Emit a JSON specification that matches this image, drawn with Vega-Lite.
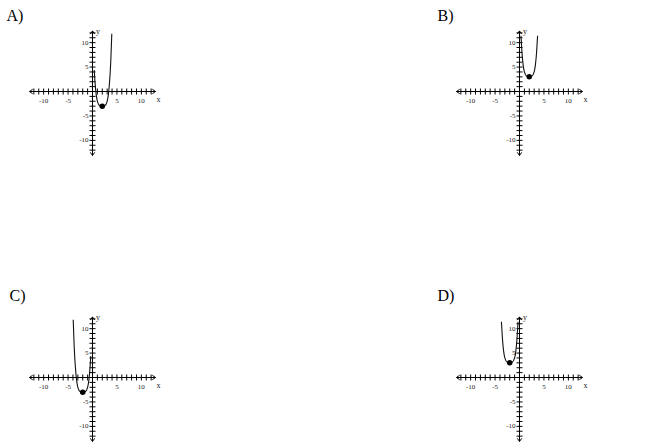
{
  "$schema": "https://vega.github.io/schema/vega-lite/v6.json",
  "background": "white",
  "padding": {"left": 6, "top": 8, "right": 5, "bottom": 5},
  "config": {"view": {"stroke": null}},
  "datasets": {
    "axes": [{"x": -12.9, "y": 0, "x2": 12.9, "y2": 0}, {"x": 0, "y": -13.1, "x2": 0, "y2": 12.4}],
    "xticks": [{"x": -12, "y": 0}, {"x": -11, "y": 0}, {"x": -10, "y": 0}, {"x": -9, "y": 0}, {"x": -8, "y": 0}, {"x": -7, "y": 0}, {"x": -6, "y": 0}, {"x": -5, "y": 0}, {"x": -4, "y": 0}, {"x": -3, "y": 0}, {"x": -2, "y": 0}, {"x": -1, "y": 0}, {"x": 1, "y": 0}, {"x": 2, "y": 0}, {"x": 3, "y": 0}, {"x": 4, "y": 0}, {"x": 5, "y": 0}, {"x": 6, "y": 0}, {"x": 7, "y": 0}, {"x": 8, "y": 0}, {"x": 9, "y": 0}, {"x": 10, "y": 0}, {"x": 11, "y": 0}, {"x": 12, "y": 0}],
    "yticks": [{"x": 0, "y": -12}, {"x": 0, "y": -11}, {"x": 0, "y": -10}, {"x": 0, "y": -9}, {"x": 0, "y": -8}, {"x": 0, "y": -7}, {"x": 0, "y": -6}, {"x": 0, "y": -5}, {"x": 0, "y": -4}, {"x": 0, "y": -3}, {"x": 0, "y": -2}, {"x": 0, "y": -1}, {"x": 0, "y": 1}, {"x": 0, "y": 2}, {"x": 0, "y": 3}, {"x": 0, "y": 4}, {"x": 0, "y": 5}, {"x": 0, "y": 6}, {"x": 0, "y": 7}, {"x": 0, "y": 8}, {"x": 0, "y": 9}, {"x": 0, "y": 10}, {"x": 0, "y": 11}, {"x": 0, "y": 12}],
    "arrows": [{"x": -12.9, "y": 0, "dir": "left"}, {"x": 12.9, "y": 0, "dir": "right"}, {"x": 0, "y": 12.4, "dir": "up"}, {"x": 0, "y": -13.1, "dir": "down"}],
    "xlabels": [{"x": -10, "y": 0, "t": "-10"}, {"x": -5, "y": 0, "t": "-5"}, {"x": 5, "y": 0, "t": "5"}, {"x": 10, "y": 0, "t": "10"}],
    "ylabels": [{"x": 0, "y": 10, "t": "10"}, {"x": 0, "y": 5, "t": "5"}, {"x": 0, "y": -5, "t": "-5"}, {"x": 0, "y": -10, "t": "-10"}],
    "names": [{"x": 13.1, "y": -1.7, "t": "x"}, {"x": 0.7, "y": 12.2, "t": "y"}]
  },
  "columns": 2,
  "bounds": "flush",
  "spacing": {"row": 157, "column": 298},
  "concat": [
    {
      "title": {"text": "A)", "anchor": "start", "frame": "group", "dx": -21.5, "offset": 3, "font": "Liberation Serif", "fontSize": 16, "fontWeight": "normal", "color": "black"},
      "width": 129, "height": 129,
      "layer": [
        {"data": {"name": "axes"}, "mark": {"type": "rule", "color": "black", "strokeWidth": 1}, "encoding": {"x": {"field": "x", "type": "quantitative", "scale": {"domain": [-13.2, 13.2], "nice": false, "zero": false}, "axis": null}, "y": {"field": "y", "type": "quantitative", "scale": {"domain": [-13.2, 13.2], "nice": false, "zero": false}, "axis": null}, "x2": {"field": "x2"}, "y2": {"field": "y2"}}},
        {"data": {"name": "xticks"}, "mark": {"type": "tick", "orient": "vertical", "size": 6, "thickness": 1, "color": "black", "opacity": 1}, "encoding": {"x": {"field": "x", "type": "quantitative"}, "y": {"field": "y", "type": "quantitative"}}},
        {"data": {"name": "yticks"}, "mark": {"type": "tick", "orient": "horizontal", "size": 6, "thickness": 1, "color": "black", "opacity": 1}, "encoding": {"x": {"field": "x", "type": "quantitative"}, "y": {"field": "y", "type": "quantitative"}}},
        {"data": {"name": "arrows"}, "mark": {"type": "point", "filled": false, "strokeWidth": 1, "color": "black", "size": 40, "opacity": 1}, "encoding": {"x": {"field": "x", "type": "quantitative"}, "y": {"field": "y", "type": "quantitative"}, "shape": {"field": "dir", "type": "nominal", "scale": {"domain": ["left", "right", "up", "down"], "range": ["M1,-0.7L0,0L1,0.7", "M-1,-0.7L0,0L-1,0.7", "M-0.7,1L0,0L0.7,1", "M-0.7,-1L0,0L0.7,-1"]}, "legend": null}}},
        {"data": {"name": "xlabels"}, "mark": {"type": "text", "dy": 9, "font": "Liberation Serif", "fontSize": 7, "color": "#222"}, "encoding": {"x": {"field": "x", "type": "quantitative"}, "y": {"field": "y", "type": "quantitative"}, "text": {"field": "t"}}},
        {"data": {"name": "ylabels"}, "mark": {"type": "text", "align": "right", "dx": -4, "font": "Liberation Serif", "fontSize": 7, "color": "#222"}, "encoding": {"x": {"field": "x", "type": "quantitative"}, "y": {"field": "y", "type": "quantitative"}, "text": {"field": "t"}}},
        {"data": {"name": "names"}, "mark": {"type": "text", "align": "left", "font": "Liberation Serif", "fontSize": 8, "color": "#222"}, "encoding": {"x": {"field": "x", "type": "quantitative"}, "y": {"field": "y", "type": "quantitative"}, "text": {"field": "t"}}},
        {"data": {"values": [{"x": 0.35, "y": 4.4}, {"x": 0.5, "y": 2.1}, {"x": 0.75, "y": -0.6}, {"x": 1, "y": -2}, {"x": 1.5, "y": -2.9}, {"x": 2, "y": -3}, {"x": 2.5, "y": -2.9}, {"x": 3, "y": -2}, {"x": 3.25, "y": -0.6}, {"x": 3.5, "y": 2.1}, {"x": 3.75, "y": 6.4}, {"x": 3.95, "y": 11.8}]}, "mark": {"type": "line", "interpolate": "monotone", "color": "#111", "strokeWidth": 1.1}, "encoding": {"x": {"field": "x", "type": "quantitative"}, "y": {"field": "y", "type": "quantitative"}}},
        {"data": {"values": [{"x": 2, "y": -3}]}, "mark": {"type": "point", "filled": true, "color": "black", "size": 30, "opacity": 1}, "encoding": {"x": {"field": "x", "type": "quantitative"}, "y": {"field": "y", "type": "quantitative"}}}
      ]
    },
    {
      "title": {"text": "B)", "anchor": "start", "frame": "group", "dx": -17.5, "offset": 3, "font": "Liberation Serif", "fontSize": 16, "fontWeight": "normal", "color": "black"},
      "width": 129, "height": 129,
      "layer": [
        {"data": {"name": "axes"}, "mark": {"type": "rule", "color": "black", "strokeWidth": 1}, "encoding": {"x": {"field": "x", "type": "quantitative", "scale": {"domain": [-13.2, 13.2], "nice": false, "zero": false}, "axis": null}, "y": {"field": "y", "type": "quantitative", "scale": {"domain": [-13.2, 13.2], "nice": false, "zero": false}, "axis": null}, "x2": {"field": "x2"}, "y2": {"field": "y2"}}},
        {"data": {"name": "xticks"}, "mark": {"type": "tick", "orient": "vertical", "size": 6, "thickness": 1, "color": "black", "opacity": 1}, "encoding": {"x": {"field": "x", "type": "quantitative"}, "y": {"field": "y", "type": "quantitative"}}},
        {"data": {"name": "yticks"}, "mark": {"type": "tick", "orient": "horizontal", "size": 6, "thickness": 1, "color": "black", "opacity": 1}, "encoding": {"x": {"field": "x", "type": "quantitative"}, "y": {"field": "y", "type": "quantitative"}}},
        {"data": {"name": "arrows"}, "mark": {"type": "point", "filled": false, "strokeWidth": 1, "color": "black", "size": 40, "opacity": 1}, "encoding": {"x": {"field": "x", "type": "quantitative"}, "y": {"field": "y", "type": "quantitative"}, "shape": {"field": "dir", "type": "nominal", "scale": {"domain": ["left", "right", "up", "down"], "range": ["M1,-0.7L0,0L1,0.7", "M-1,-0.7L0,0L-1,0.7", "M-0.7,1L0,0L0.7,1", "M-0.7,-1L0,0L0.7,-1"]}, "legend": null}}},
        {"data": {"name": "xlabels"}, "mark": {"type": "text", "dy": 9, "font": "Liberation Serif", "fontSize": 7, "color": "#222"}, "encoding": {"x": {"field": "x", "type": "quantitative"}, "y": {"field": "y", "type": "quantitative"}, "text": {"field": "t"}}},
        {"data": {"name": "ylabels"}, "mark": {"type": "text", "align": "right", "dx": -4, "font": "Liberation Serif", "fontSize": 7, "color": "#222"}, "encoding": {"x": {"field": "x", "type": "quantitative"}, "y": {"field": "y", "type": "quantitative"}, "text": {"field": "t"}}},
        {"data": {"name": "names"}, "mark": {"type": "text", "align": "left", "font": "Liberation Serif", "fontSize": 8, "color": "#222"}, "encoding": {"x": {"field": "x", "type": "quantitative"}, "y": {"field": "y", "type": "quantitative"}, "text": {"field": "t"}}},
        {"data": {"values": [{"x": 0.3, "y": 11.4}, {"x": 0.5, "y": 8.1}, {"x": 0.75, "y": 5.4}, {"x": 1, "y": 4}, {"x": 1.5, "y": 3.1}, {"x": 2, "y": 3}, {"x": 2.5, "y": 3.1}, {"x": 3, "y": 4}, {"x": 3.25, "y": 5.4}, {"x": 3.5, "y": 8.1}, {"x": 3.7, "y": 11.4}]}, "mark": {"type": "line", "interpolate": "monotone", "color": "#111", "strokeWidth": 1.1}, "encoding": {"x": {"field": "x", "type": "quantitative"}, "y": {"field": "y", "type": "quantitative"}}},
        {"data": {"values": [{"x": 2, "y": 3}]}, "mark": {"type": "point", "filled": true, "color": "black", "size": 30, "opacity": 1}, "encoding": {"x": {"field": "x", "type": "quantitative"}, "y": {"field": "y", "type": "quantitative"}}}
      ]
    },
    {
      "title": {"text": "C)", "anchor": "start", "frame": "group", "dx": -18.5, "offset": 9, "font": "Liberation Serif", "fontSize": 16, "fontWeight": "normal", "color": "black"},
      "width": 129, "height": 129,
      "layer": [
        {"data": {"name": "axes"}, "mark": {"type": "rule", "color": "black", "strokeWidth": 1}, "encoding": {"x": {"field": "x", "type": "quantitative", "scale": {"domain": [-13.2, 13.2], "nice": false, "zero": false}, "axis": null}, "y": {"field": "y", "type": "quantitative", "scale": {"domain": [-13.2, 13.2], "nice": false, "zero": false}, "axis": null}, "x2": {"field": "x2"}, "y2": {"field": "y2"}}},
        {"data": {"name": "xticks"}, "mark": {"type": "tick", "orient": "vertical", "size": 6, "thickness": 1, "color": "black", "opacity": 1}, "encoding": {"x": {"field": "x", "type": "quantitative"}, "y": {"field": "y", "type": "quantitative"}}},
        {"data": {"name": "yticks"}, "mark": {"type": "tick", "orient": "horizontal", "size": 6, "thickness": 1, "color": "black", "opacity": 1}, "encoding": {"x": {"field": "x", "type": "quantitative"}, "y": {"field": "y", "type": "quantitative"}}},
        {"data": {"name": "arrows"}, "mark": {"type": "point", "filled": false, "strokeWidth": 1, "color": "black", "size": 40, "opacity": 1}, "encoding": {"x": {"field": "x", "type": "quantitative"}, "y": {"field": "y", "type": "quantitative"}, "shape": {"field": "dir", "type": "nominal", "scale": {"domain": ["left", "right", "up", "down"], "range": ["M1,-0.7L0,0L1,0.7", "M-1,-0.7L0,0L-1,0.7", "M-0.7,1L0,0L0.7,1", "M-0.7,-1L0,0L0.7,-1"]}, "legend": null}}},
        {"data": {"name": "xlabels"}, "mark": {"type": "text", "dy": 9, "font": "Liberation Serif", "fontSize": 7, "color": "#222"}, "encoding": {"x": {"field": "x", "type": "quantitative"}, "y": {"field": "y", "type": "quantitative"}, "text": {"field": "t"}}},
        {"data": {"name": "ylabels"}, "mark": {"type": "text", "align": "right", "dx": -4, "font": "Liberation Serif", "fontSize": 7, "color": "#222"}, "encoding": {"x": {"field": "x", "type": "quantitative"}, "y": {"field": "y", "type": "quantitative"}, "text": {"field": "t"}}},
        {"data": {"name": "names"}, "mark": {"type": "text", "align": "left", "font": "Liberation Serif", "fontSize": 8, "color": "#222"}, "encoding": {"x": {"field": "x", "type": "quantitative"}, "y": {"field": "y", "type": "quantitative"}, "text": {"field": "t"}}},
        {"data": {"values": [{"x": -3.95, "y": 11.8}, {"x": -3.75, "y": 6.4}, {"x": -3.5, "y": 2.1}, {"x": -3.25, "y": -0.6}, {"x": -3, "y": -2}, {"x": -2.5, "y": -2.9}, {"x": -2, "y": -3}, {"x": -1.5, "y": -2.9}, {"x": -1, "y": -2}, {"x": -0.75, "y": -0.6}, {"x": -0.5, "y": 2.1}, {"x": -0.35, "y": 4.4}]}, "mark": {"type": "line", "interpolate": "monotone", "color": "#111", "strokeWidth": 1.1}, "encoding": {"x": {"field": "x", "type": "quantitative"}, "y": {"field": "y", "type": "quantitative"}}},
        {"data": {"values": [{"x": -2, "y": -3}]}, "mark": {"type": "point", "filled": true, "color": "black", "size": 30, "opacity": 1}, "encoding": {"x": {"field": "x", "type": "quantitative"}, "y": {"field": "y", "type": "quantitative"}}}
      ]
    },
    {
      "title": {"text": "D)", "anchor": "start", "frame": "group", "dx": -17.5, "offset": 9, "font": "Liberation Serif", "fontSize": 16, "fontWeight": "normal", "color": "black"},
      "width": 129, "height": 129,
      "layer": [
        {"data": {"name": "axes"}, "mark": {"type": "rule", "color": "black", "strokeWidth": 1}, "encoding": {"x": {"field": "x", "type": "quantitative", "scale": {"domain": [-13.2, 13.2], "nice": false, "zero": false}, "axis": null}, "y": {"field": "y", "type": "quantitative", "scale": {"domain": [-13.2, 13.2], "nice": false, "zero": false}, "axis": null}, "x2": {"field": "x2"}, "y2": {"field": "y2"}}},
        {"data": {"name": "xticks"}, "mark": {"type": "tick", "orient": "vertical", "size": 6, "thickness": 1, "color": "black", "opacity": 1}, "encoding": {"x": {"field": "x", "type": "quantitative"}, "y": {"field": "y", "type": "quantitative"}}},
        {"data": {"name": "yticks"}, "mark": {"type": "tick", "orient": "horizontal", "size": 6, "thickness": 1, "color": "black", "opacity": 1}, "encoding": {"x": {"field": "x", "type": "quantitative"}, "y": {"field": "y", "type": "quantitative"}}},
        {"data": {"name": "arrows"}, "mark": {"type": "point", "filled": false, "strokeWidth": 1, "color": "black", "size": 40, "opacity": 1}, "encoding": {"x": {"field": "x", "type": "quantitative"}, "y": {"field": "y", "type": "quantitative"}, "shape": {"field": "dir", "type": "nominal", "scale": {"domain": ["left", "right", "up", "down"], "range": ["M1,-0.7L0,0L1,0.7", "M-1,-0.7L0,0L-1,0.7", "M-0.7,1L0,0L0.7,1", "M-0.7,-1L0,0L0.7,-1"]}, "legend": null}}},
        {"data": {"name": "xlabels"}, "mark": {"type": "text", "dy": 9, "font": "Liberation Serif", "fontSize": 7, "color": "#222"}, "encoding": {"x": {"field": "x", "type": "quantitative"}, "y": {"field": "y", "type": "quantitative"}, "text": {"field": "t"}}},
        {"data": {"name": "ylabels"}, "mark": {"type": "text", "align": "right", "dx": -4, "font": "Liberation Serif", "fontSize": 7, "color": "#222"}, "encoding": {"x": {"field": "x", "type": "quantitative"}, "y": {"field": "y", "type": "quantitative"}, "text": {"field": "t"}}},
        {"data": {"name": "names"}, "mark": {"type": "text", "align": "left", "font": "Liberation Serif", "fontSize": 8, "color": "#222"}, "encoding": {"x": {"field": "x", "type": "quantitative"}, "y": {"field": "y", "type": "quantitative"}, "text": {"field": "t"}}},
        {"data": {"values": [{"x": -3.7, "y": 11.4}, {"x": -3.5, "y": 8.1}, {"x": -3.25, "y": 5.4}, {"x": -3, "y": 4}, {"x": -2.5, "y": 3.1}, {"x": -2, "y": 3}, {"x": -1.5, "y": 3.1}, {"x": -1, "y": 4}, {"x": -0.75, "y": 5.4}, {"x": -0.5, "y": 8.1}, {"x": -0.3, "y": 11.4}]}, "mark": {"type": "line", "interpolate": "monotone", "color": "#111", "strokeWidth": 1.1}, "encoding": {"x": {"field": "x", "type": "quantitative"}, "y": {"field": "y", "type": "quantitative"}}},
        {"data": {"values": [{"x": -2, "y": 3}]}, "mark": {"type": "point", "filled": true, "color": "black", "size": 30, "opacity": 1}, "encoding": {"x": {"field": "x", "type": "quantitative"}, "y": {"field": "y", "type": "quantitative"}}}
      ]
    }
  ]
}
